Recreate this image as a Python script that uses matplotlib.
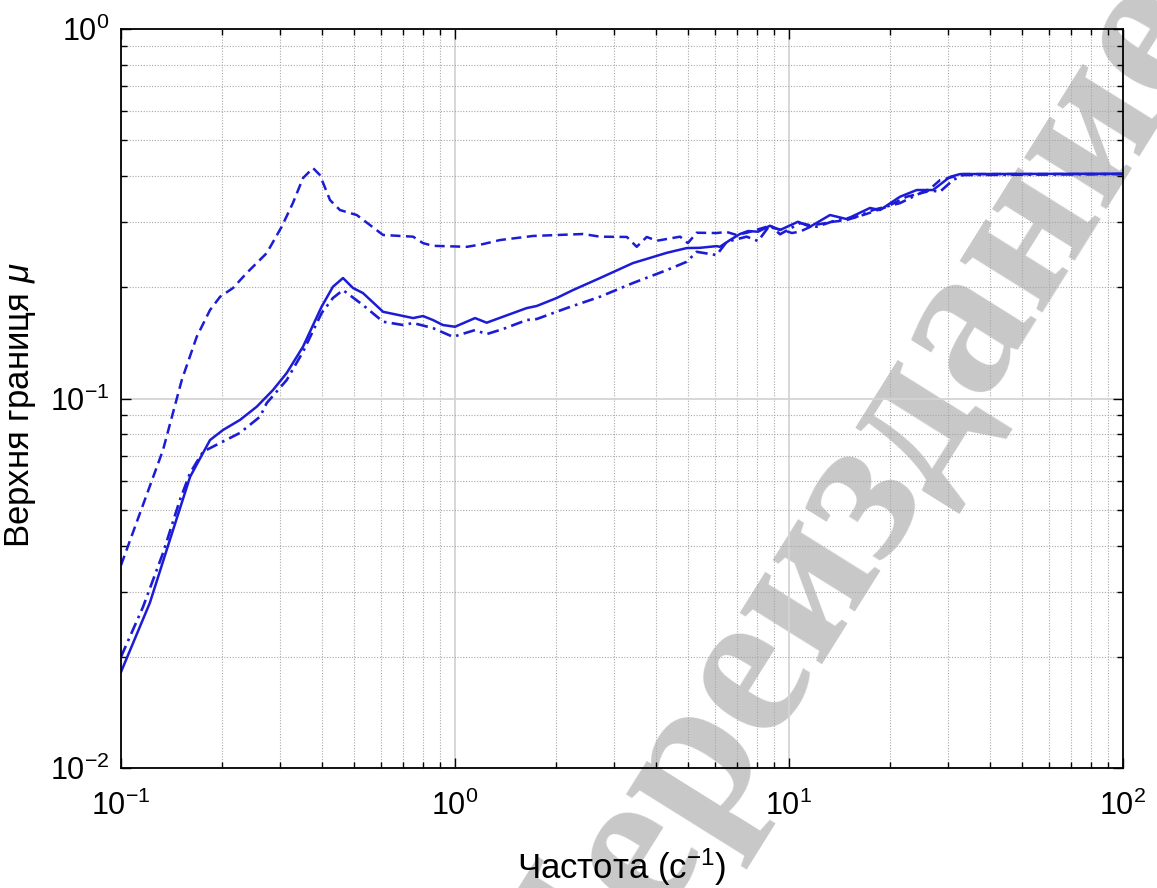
import numpy as np
import matplotlib
matplotlib.use('Agg')
import matplotlib.pyplot as plt
from matplotlib.ticker import LogLocator, NullFormatter


# ------- Data (frequency, upper bound mu) -------

solid_x = [0.1, 0.122, 0.140, 0.161, 0.1847, 0.202, 0.227, 0.2548, 0.285, 0.3133,
           0.3506, 0.3986, 0.431, 0.462, 0.495, 0.530, 0.609, 0.749, 0.802, 0.859,
           0.92, 1.0, 1.148, 1.244, 1.392, 1.639, 1.756, 2.016, 2.256, 2.718,
           3.41, 4.31, 4.94, 5.41, 6.07, 6.21, 6.66, 7.13, 7.54, 8.08,
           8.77, 9.40, 10.64, 11.56, 13.27, 14.88, 17.48, 18.73, 21.49, 24.12,
           26.98, 30.34, 32.51, 100]
solid_y = [0.0182, 0.0280, 0.0414, 0.0614, 0.0772, 0.0822, 0.0875, 0.0950, 0.1054, 0.1172,
           0.1381, 0.1772, 0.2007, 0.2119, 0.1991, 0.1930, 0.1717, 0.1651, 0.1672, 0.1631,
           0.1581, 0.1564, 0.1651, 0.1604, 0.1665, 0.1757, 0.1780, 0.1871, 0.1966, 0.2119,
           0.2326, 0.2480, 0.2554, 0.2558, 0.2585, 0.2574, 0.2685, 0.2788, 0.2840, 0.2828,
           0.2935, 0.2858, 0.3009, 0.2917, 0.3138, 0.3060, 0.3279, 0.3237, 0.3516, 0.3667,
           0.3667, 0.3980, 0.4050, 0.4060]

dashed_x = [0.1, 0.1336, 0.152, 0.1685, 0.1847, 0.198, 0.2164, 0.2378, 0.273, 0.3027,
            0.327, 0.3506, 0.3757, 0.394, 0.4224, 0.4524, 0.508, 0.609, 0.749, 0.802,
            0.859, 1.086, 1.213, 1.364, 1.712, 2.417, 2.718, 3.27, 3.50, 3.75,
            4.02, 4.72, 4.98, 5.29, 6.07, 6.51, 6.97, 7.47, 8.58, 9.59,
            10.2, 10.79, 11.9, 13.54, 14.88, 17.08, 19.6, 22.5, 25.84, 28.32,
            30.97, 33.19, 100]
dashed_y = [0.0354, 0.0726, 0.1122, 0.1469, 0.1736, 0.1886, 0.1991, 0.2186, 0.2475, 0.2917,
            0.3380, 0.3950, 0.4205, 0.4026, 0.3445, 0.3237, 0.3138, 0.2771, 0.2742, 0.2634,
            0.2590, 0.2574, 0.2618, 0.2685, 0.2754, 0.2788, 0.2742, 0.2737, 0.2574, 0.2737,
            0.2673, 0.2742, 0.2634, 0.2810, 0.2805, 0.2823, 0.2771, 0.2810, 0.2917, 0.2858,
            0.2805, 0.2830, 0.2948, 0.3009, 0.3041, 0.3160, 0.3300, 0.3516, 0.3628, 0.3900,
            0.3980, 0.4050, 0.4050]

dashdot_x = [0.1, 0.1164, 0.1336, 0.150, 0.161, 0.176, 0.198, 0.227, 0.2607, 0.273,
             0.3133, 0.3506, 0.3986, 0.431, 0.462, 0.530, 0.609, 0.699, 0.749, 0.859,
             0.986, 1.148, 1.244, 1.392, 1.639, 1.756, 2.16, 2.718, 3.41, 4.31,
             4.94, 5.29, 6.07, 6.51, 7.47, 8.08, 8.77, 9.40, 10.79, 12.10,
             13.89, 15.95, 17.84, 21.49, 25.84, 28.32, 30.97, 33.19, 100]
dashdot_y = [0.0200, 0.0273, 0.0382, 0.0531, 0.0629, 0.0718, 0.0758, 0.0807, 0.0893, 0.0972,
             0.1122, 0.1338, 0.1703, 0.1871, 0.1966, 0.1791, 0.1614, 0.1581, 0.1601, 0.1551,
             0.1469, 0.1532, 0.1494, 0.1542, 0.1631, 0.1641, 0.1757, 0.1886, 0.2054, 0.2227,
             0.2345, 0.2495, 0.2445, 0.2656, 0.2742, 0.2668, 0.2948, 0.2783, 0.2985, 0.2917,
             0.3041, 0.3105, 0.3237, 0.3380, 0.3667, 0.3628, 0.3900, 0.4026, 0.4050]

xlabel = 'Частота (с$^{-1}$)'
ylabel = 'Верхня границя $\\mathit{\\mu}$'
watermark = 'Переиздание'


# ------- Fonts (MATLAB-like Helvetica look) -------

plt.rcParams['font.family'] = ['Liberation Sans', 'DejaVu Sans']
plt.rcParams['mathtext.fontset'] = 'custom'
plt.rcParams['mathtext.rm'] = 'Liberation Sans'
plt.rcParams['mathtext.it'] = 'Liberation Sans:italic'
plt.rcParams['mathtext.default'] = 'regular'


# ------- Create the figure -------

fig = plt.figure(figsize=(11.57, 8.88), dpi=100)
fig.patch.set_facecolor('white')
ax = fig.add_axes([0.1046, 0.1351, 0.866, 0.8322])
ax.patch.set_alpha(0)

# watermark sits under everything
fig.text(0.735, 0.418, watermark, rotation=58, rotation_mode='anchor',
         ha='center', va='center', fontsize=152, fontweight='bold',
         family='Liberation Serif', color='#c8c8c8', zorder=-1)


# ------- Curves -------

blue = '#1c1cd6'
ax.plot(solid_x, solid_y, color=blue, lw=1.8, ls='-')
ax.plot(dashed_x, dashed_y, color=blue, lw=1.8, ls=(0, (4, 2.2)))
ax.plot(dashdot_x, dashdot_y, color=blue, lw=1.9, ls=(0, (4.5, 2, 1, 2)))


# ------- Axes -------

ax.set_xscale('log')
ax.set_yscale('log')
ax.set_xlim(0.1, 100)
ax.set_ylim(0.01, 1)

ax.xaxis.set_minor_locator(LogLocator(base=10, subs=np.arange(2, 10)))
ax.yaxis.set_minor_locator(LogLocator(base=10, subs=np.arange(2, 10)))
ax.xaxis.set_minor_formatter(NullFormatter())
ax.yaxis.set_minor_formatter(NullFormatter())

ax.grid(True, which='major', color='#d4d4d4', lw=1.3, ls='-')
ax.grid(True, which='minor', color='#a8a8a8', lw=0.8, ls=(0, (1, 1.5)))
ax.set_axisbelow(True)

ax.tick_params(which='both', direction='in', top=True, right=True, color='black', width=1.0)
ax.tick_params(which='major', length=7, labelsize=22)
ax.tick_params(axis='x', which='major', pad=16)
ax.tick_params(axis='y', which='major', pad=8.5)
ax.tick_params(which='minor', length=4)
for s in ax.spines.values():
    s.set_linewidth(1.3)

ax.set_xlabel(xlabel, fontsize=25, labelpad=18)
ax.set_ylabel(ylabel, fontsize=25)
ax.yaxis.set_label_coords(-0.083, 0.491)

plt.savefig('out.png', dpi=100, facecolor='white')
